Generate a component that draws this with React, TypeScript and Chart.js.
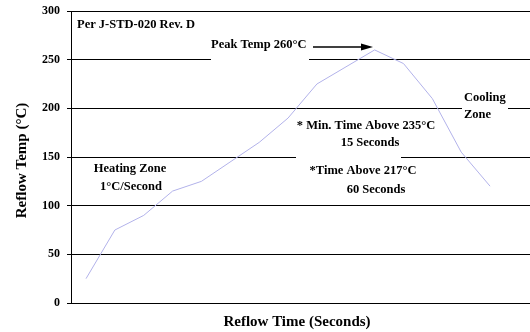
import React, { useEffect, useRef } from "react";
import { Chart, registerables } from "chart.js";

Chart.register(...registerables);

// Reflow profile data (time in seconds, temperature in °C)
const timeSeconds = [0, 30, 60, 90, 120, 180, 210, 240, 300, 330, 360, 390, 420];
const tempsC = [25, 75, 90, 115, 125, 165, 190, 225, 260, 246, 210, 155, 120];
const yTicks = [0, 50, 100, 150, 200, 250, 300];

const SERIF = '"Liberation Serif", "Times New Roman", Times, serif';

const annotationPlugin = {
  id: "reflowNotes",
  beforeDatasetsDraw(chart: any) {
    const ctx = chart.ctx as CanvasRenderingContext2D;
    ctx.save();
    // white text boxes hiding grid lines
    ctx.fillStyle = "#ffffff";
    ctx.fillRect(211, 36, 98, 26);
    ctx.fillRect(462, 88, 46, 35);
    ctx.fillRect(296, 118, 105, 42);

    ctx.fillStyle = "#000000";
    ctx.font = `bold 12.5px ${SERIF}`;
    ctx.textBaseline = "middle";
    ctx.textAlign = "left";
    ctx.fillText("Per J-STD-020 Rev. D", 77, 25);
    ctx.fillText("Peak Temp 260°C", 211, 45);
    ctx.fillText("Cooling", 464, 98);
    ctx.fillText("Zone", 464, 115);
    ctx.textAlign = "center";
    ctx.fillText("* Min. Time Above 235°C", 366, 126);
    ctx.fillText("15 Seconds", 370, 143);
    ctx.fillText("*Time Above 217°C", 363, 171);
    ctx.fillText("60 Seconds", 376, 190);
    ctx.fillText("Heating Zone", 130, 169);
    ctx.fillText("1°C/Second", 131, 187);

    // axis titles
    ctx.font = `bold 15px ${SERIF}`;
    ctx.fillText("Reflow Time (Seconds)", 297, 322);
    ctx.save();
    ctx.translate(22, 160.5);
    ctx.rotate(-Math.PI / 2);
    ctx.fillText("Reflow Temp (°C)", 0, 0);
    ctx.restore();

    // arrow
    ctx.strokeStyle = "#000000";
    ctx.lineWidth = 1.3;
    ctx.beginPath();
    ctx.moveTo(313, 47);
    ctx.lineTo(363, 47);
    ctx.stroke();
    ctx.beginPath();
    ctx.moveTo(373, 47);
    ctx.lineTo(361, 43.5);
    ctx.lineTo(361, 50.5);
    ctx.closePath();
    ctx.fill();
    ctx.restore();
  },
};

export default function App() {
  const canvasRef = useRef<HTMLCanvasElement | null>(null);

  useEffect(() => {
    document.body.style.margin = "0";
    const canvas = canvasRef.current;
    if (!canvas) return;
    const chart = new Chart(canvas, {
      type: "line",
      data: {
        datasets: [
          {
            data: timeSeconds.map((t, i) => ({ x: t, y: tempsC[i] })),
            borderColor: "#b2b2ea",
            borderWidth: 1,
            pointRadius: 0,
            tension: 0,
            fill: false,
          },
        ],
      },
      options: {
        animation: false,
        responsive: false,
        maintainAspectRatio: false,
        layout: { padding: { top: 11, right: 0, left: 0, bottom: 0 } },
        plugins: {
          legend: { display: false },
          tooltip: { enabled: false },
        },
        scales: {
          x: {
            type: "linear",
            min: -15.6,
            max: 461.5,
            grid: { display: false },
            border: { display: false },
            ticks: { display: false },
            title: { display: false },
            afterFit(scale: any) {
              scale.height = 29;
              scale.paddingLeft = 0;
              scale.paddingRight = 0;
            },
          },
          y: {
            min: 0,
            max: 300,
            afterBuildTicks(scale: any) {
              scale.ticks = yTicks.map((v) => ({ value: v }));
            },
            grid: {
              color: "#000",
              lineWidth: 1,
              drawTicks: true,
              tickLength: 4,
            },
            border: { display: true, color: "#000", width: 1 },
            ticks: {
              color: "#000",
              padding: 7,
              font: { family: SERIF, size: 12, weight: "bold" },
            },
            title: { display: false },
            afterFit(scale: any) {
              scale.width = 71;
              scale.paddingTop = 0;
              scale.paddingBottom = 0;
            },
          },
        },
      },
      plugins: [annotationPlugin],
    });
    return () => chart.destroy();
  }, []);

  return (
    <div style={{ position: "fixed", left: 0, top: 0, width: 530, height: 332 }}>
      <canvas ref={canvasRef} width={530} height={332} style={{ width: 530, height: 332 }} />
    </div>
  );
}
